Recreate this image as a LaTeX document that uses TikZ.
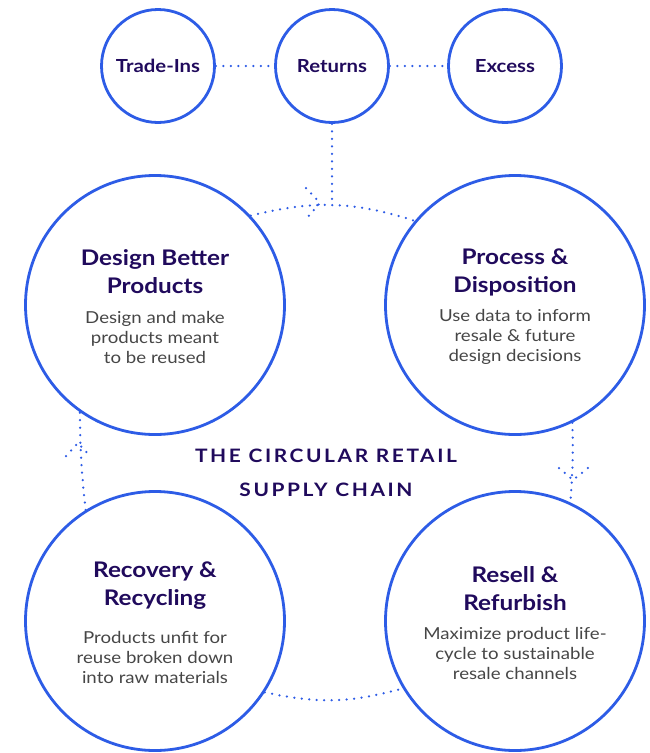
\documentclass[tikz,border=0pt]{standalone}
\usepackage{fontspec}
\setmainfont{Lato}[FakeStretch=1.13]
\usetikzlibrary{positioning}
\usetikzlibrary{calc}
\definecolor{ringblue}{RGB}{45,92,230}
\definecolor{headpurple}{RGB}{32,10,92}
\definecolor{copygrey}{RGB}{70,70,70}

\begin{document}
\begin{tikzpicture}[x=1pt,y=1pt,align=center,
  bignode/.style={circle,draw=ringblue,line width=2.8pt,minimum size=259pt,inner sep=0pt},
  smallnode/.style={circle,draw=ringblue,line width=2.8pt,minimum size=113pt,inner sep=0pt,font=\fontsize{18}{21}\selectfont\bfseries,text=headpurple},
  headtext/.style={font=\fontsize{21.5}{28}\selectfont\bfseries,text=headpurple},
  copytext/.style={font=\fontsize{16.5}{20}\selectfont,text=copygrey},
  dotline/.style={draw=ringblue,line width=2.5pt,line cap=round,dash pattern=on 0pt off 7.5pt}]
		\useasboundingbox (0,0) rectangle (649,-753);
		% sources
		\node[smallnode] (tradeins) at (158,-66) {Trade-Ins};
		\node[smallnode] (returns) at (332,-66) {Returns};
		\node[smallnode] (excess) at (505,-66) {Excess};
		% the four stages
		\node[bignode] (design) at (155,-305) {};
		\node[bignode] (process) at (515,-305) {};
		\node[bignode] (recovery) at (155,-621) {};
		\node[bignode] (resell) at (515,-621) {};
		\node[headtext] (designT) at ([yshift=33]design.center) {Design Better\\Products};
		\node[copytext] (designB) at ([yshift=-32]design.center) {Design and make\\products meant\\to be reused};
		\node[headtext] (processT) at ([yshift=33]process.center) {Process \&\\Disposition};
		\node[copytext] (processB) at ([yshift=-32]process.center) {Use data to inform\\resale \& future\\design decisions};
		\node[headtext] (recoveryT) at ([yshift=35]recovery.center) {Recovery \&\\Recycling};
		\node[copytext] (recoveryB) at ([yshift=-36]recovery.center) {Products unfit for\\reuse broken down\\into raw materials};
		\node[headtext] (resellT) at ([yshift=32]resell.center) {Resell \&\\Refurbish};
		\node[copytext] (resellB) at ([yshift=-32]resell.center) {Maximize product life-\\cycle to sustainable\\resale channels};
		\node[font=\fontsize{18.5}{34}\selectfont\bfseries\addfontfeature{LetterSpace=14},text=headpurple] (title) at (326,-473) {THE CIRCULAR RETAIL\\SUPPLY CHAIN};
		% dotted links
		\coordinate (merge) at (332,-202);
		\coordinate (toptip) at (320,-203);
		\coordinate (lefttip) at (78,-443);
		\coordinate (righttip) at (573,-480);
		\draw[dotline] (tradeins) -- (returns);
		\draw[dotline] (returns) -- (excess);
		\draw[dotline] (returns) -- (merge);
		\draw[dotline] (design.43) to[bend left=16] (process.140);
		\draw[dotline] (process.-64) to[bend left=3] (resell.65);
		\draw[dotline] (recovery.-33) to[bend right=14] (resell.211);
		\draw[dotline] (recovery.122) to[bend left=3] (design.235);
		% chevrons
		\draw[dotline] ($(toptip)+(-14,15)$) -- (toptip) -- ($(toptip)+(-13,-15)$);
		\draw[dotline] ($(lefttip)+(-12,-13)$) -- (lefttip) -- ($(lefttip)+(12,-13)$);
		\draw[dotline] ($(righttip)+(-14,12)$) -- (righttip) -- ($(righttip)+(15,12)$);
	\end{tikzpicture}
\end{document}
